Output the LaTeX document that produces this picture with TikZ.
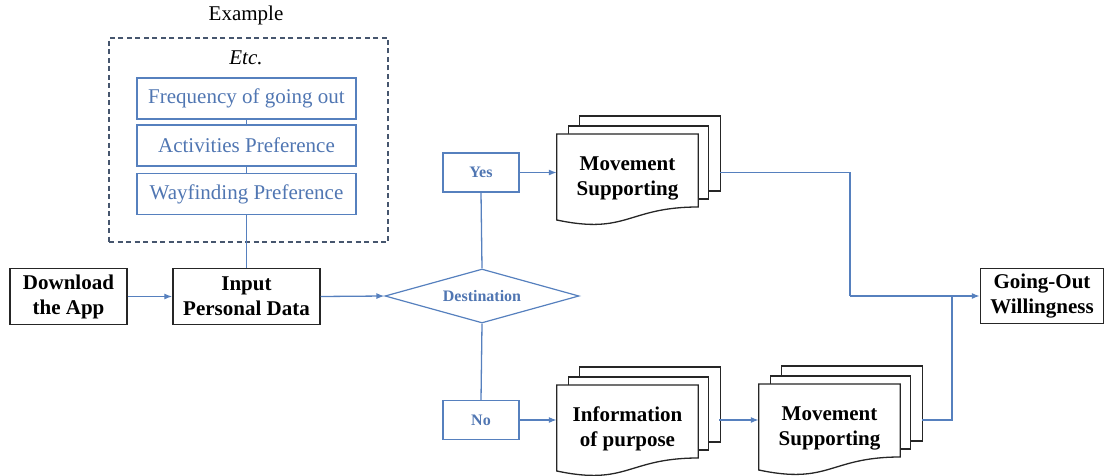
\documentclass[tikz,border=0pt]{standalone}
\usepackage{fontspec}
\setmainfont{Liberation Serif}
\usetikzlibrary{shapes.geometric,arrows.meta,calc,backgrounds}
\definecolor{flowblue}{RGB}{86,128,190}
\definecolor{textblue}{RGB}{80,118,178}
\definecolor{dashgray}{RGB}{70,86,110}
\newcommand{\mainsz}{\fontsize{21}{25}\selectfont}
\newcommand{\labsz}{\fontsize{16}{19}\selectfont}
% stacked "multi-document" outline behind a document node
\newcommand{\stackdoc}[1]{%
  \draw[docline] ($(#1.north west)+(23,-18)$) rectangle ($(#1.north east)+(22,57)$);
  \draw[docline] ($(#1.north west)+(12,-8)$) rectangle ($(#1.north east)+(10,65)$);
  \draw[docline] (#1.north west) -- (#1.north east) -- ($(#1.north east)+(0,73)$)
    .. controls ($(#1.north)+(0,73)$) and ($(#1.north)+(0,101)$) .. ($(#1.north west)+(0,86)$) -- cycle;
}
\begin{document}
\begin{tikzpicture}[x=1pt,y=-1pt,
  blackbox/.style={draw=black!85,line width=1.4pt,fill=white,align=center,font=\mainsz\bfseries,inner sep=0pt},
  bluebox/.style={draw=flowblue,line width=1.2pt,text=textblue,font=\mainsz,minimum width=219,minimum height=41,inner sep=0pt},
  choice/.style={draw=flowblue,line width=1.2pt,text=textblue,font=\labsz\bfseries,minimum width=76,minimum height=39,inner sep=0pt},
  decision/.style={diamond,aspect=3.6,draw=flowblue,line width=1.2pt,text=textblue,font=\labsz\bfseries,minimum width=194,minimum height=54,inner sep=0pt},
  docnode/.style={minimum width=141,minimum height=88,inner sep=0pt,align=center,font=\mainsz\bfseries},
  docline/.style={draw=black!85,line width=1.3pt,fill=white},
  flow/.style={draw=flowblue,line width=1.3pt},
  flowarrow/.style={flow,-{Latex[length=8pt,width=6pt]}},
  dashbox/.style={draw=dashgray,line width=1.2pt,dash pattern=on 5pt off 3.5pt,minimum width=279,minimum height=204,inner sep=0pt}]
\useasboundingbox (0,0) rectangle (1105,476);

% example panel
\node[font=\mainsz] (extitle) at (246,15) {Example};
\node[dashbox] (exbox) at (248.5,140) {};
\node[font=\mainsz\itshape] (etc) at (246,58) {Etc.};
\node[bluebox] (freq) at (246.5,98.5) {Frequency of going out};
\node[bluebox] (act) at (246.5,145.5) {Activities Preference};
\node[bluebox] (way) at (246.5,194) {Wayfinding Preference};

% main flow
\node[blackbox,minimum width=117,minimum height=56] (dl) at (68.5,296.5) {Download\\the App};
\node[blackbox,minimum width=147,minimum height=56] (input) at (246.5,296.5) {Input\\Personal Data};
\node[decision] (dest) at (482,296) {Destination};
\node[choice] (yes) at (481,172.5) {Yes};
\node[choice] (no) at (481,420) {No};
\node[docnode,anchor=north] (ms1) at (627.5,134) {Movement\\Supporting};
\node[docnode,anchor=north] (info) at (627.5,385) {Information\\of purpose};
\node[docnode,anchor=north] (ms2) at (829.5,384) {Movement\\Supporting};
\node[blackbox,minimum width=123,minimum height=55] (going) at (1042,296) {Going-Out\\Willingness};

\begin{scope}[on background layer]
  \stackdoc{ms1}
  \stackdoc{info}
  \stackdoc{ms2}
\end{scope}

% connectors
\draw[flow] (freq.south) -- (act.north);
\draw[flow] (act.south) -- (way.north);
\draw[flow] (way.south) -- (input.north);
\draw[flowarrow] (dl.east) -- (input.west);
\draw[flowarrow] (input.east) -- (dest.west);
\draw[flow] (dest.north) -- (yes.south);
\draw[flow] (dest.south) -- (no.north);
\draw[flowarrow] (yes.east) -- (yes.east -| ms1.west);
\draw[flowarrow] (no.east) -- (no.east -| info.west);
\draw[flowarrow] ($(info.east |- no.east)+(21,0)$) -- (no.east -| ms2.west);
\coordinate (j1) at (850,296);
\coordinate (j2) at (952,296);
\draw[flow] ($(ms1.east |- yes.east)+(22,0)$) -| (j1);
\draw[flowarrow] (j1) -- (going.west);
\draw[flow] ($(ms2.east |- no.east)+(22,0)$) -| (j2);
\end{tikzpicture}
\end{document}
